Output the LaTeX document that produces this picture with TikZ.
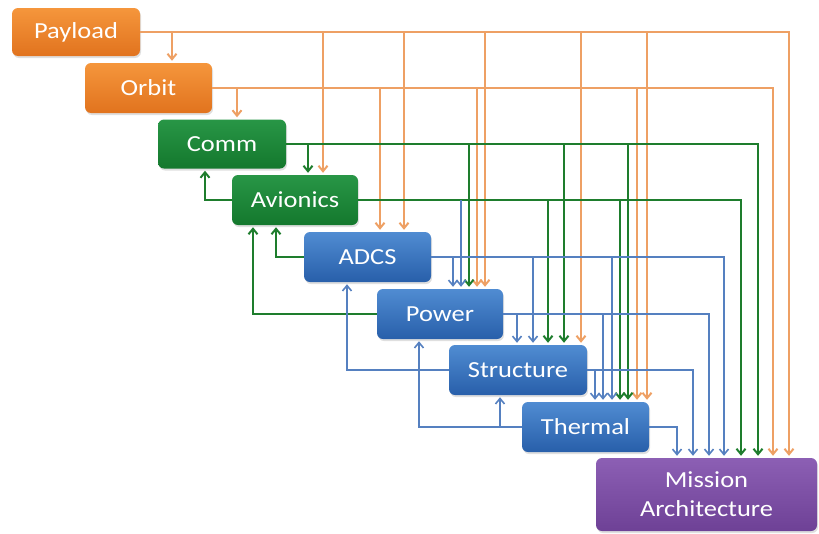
\documentclass[tikz,border=0pt]{standalone}
\usepackage{fontspec}
\setmainfont{Carlito}[FakeStretch=1.15]
\usetikzlibrary{arrows.meta,shadows}
\definecolor{oline}{RGB}{238,160,100}
\definecolor{gline}{RGB}{30,125,45}
\definecolor{bline}{RGB}{85,128,192}
\definecolor{otop}{RGB}{245,150,60}
\definecolor{obot}{RGB}{225,115,30}
\definecolor{gtop}{RGB}{40,150,70}
\definecolor{gbot}{RGB}{20,120,45}
\definecolor{btop}{RGB}{80,140,210}
\definecolor{bbot}{RGB}{40,95,170}
\definecolor{ptop}{RGB}{140,95,180}
\definecolor{pbot}{RGB}{110,65,150}
\tikzset{
  box/.style={rounded corners=6pt, text=white, align=center,
    font=\fontsize{23}{29}\selectfont, inner sep=0pt,
    drop shadow={opacity=0.25, shadow xshift=1pt, shadow yshift=-2pt}},
  obox/.style={box, top color=otop, bottom color=obot},
  gbox/.style={box, top color=gtop, bottom color=gbot},
  bbox/.style={box, top color=btop, bottom color=bbot},
  pbox/.style={box, top color=ptop, bottom color=pbot},
  tip/.style={-{Straight Barb[length=5.5pt,width=9pt]}, shorten >=2pt},
  oa/.style={tip, draw=oline, line width=2pt},
  ga/.style={tip, draw=gline, line width=2pt},
  ba/.style={tip, draw=bline, line width=1.6pt},
}
\begin{document}
\begin{tikzpicture}[x=1pt,y=-1pt]
\useasboundingbox (0,0) rectangle (819,533);
% boxes
\node[obox, minimum width=128pt, minimum height=48pt] (pay) at (76,32) {Payload};
\node[obox, minimum width=127pt, minimum height=50pt] (orb) at (148.5,88) {Orbit};
\node[gbox, minimum width=128pt, minimum height=49pt] (com) at (222,144) {Comm};
\node[gbox, minimum width=126pt, minimum height=50pt] (avi) at (295,200) {Avionics};
\node[bbox, minimum width=127pt, minimum height=50pt] (adc) at (367.5,257) {ADCS};
\node[bbox, minimum width=126pt, minimum height=50pt] (pow) at (440,314) {Power};
\node[bbox, minimum width=138pt, minimum height=50pt] (str) at (518,370) {Structure};
\node[bbox, minimum width=127pt, minimum height=50pt] (the) at (585.5,427) {Thermal};
\node[pbox, minimum width=221pt, minimum height=73pt] (mis) at (706.5,494.5) {Mission\\Architecture};

% Payload outputs
\draw[oa] (pay.east) -| (789,0 |- mis.north);
\draw[oa] (172,0 |- pay.east) -- (172,0 |- orb.north);
\draw[oa] (323,0 |- pay.east) -- (323,0 |- avi.north);
\draw[oa] (404,0 |- pay.east) -- (404,0 |- adc.north);
\draw[oa] (485,0 |- pay.east) -- (485,0 |- pow.north);
\draw[oa] (581,0 |- pay.east) -- (581,0 |- str.north);
\draw[oa] (647,0 |- pay.east) -- (647,0 |- the.north);
% Orbit outputs
\draw[oa] (orb.east) -| (773,0 |- mis.north);
\draw[oa] (237,0 |- orb.east) -- (237,0 |- com.north);
\draw[oa] (380,0 |- orb.east) -- (380,0 |- adc.north);
\draw[oa] (477,0 |- orb.east) -- (477,0 |- pow.north);
\draw[oa] (637,0 |- orb.east) -- (637,0 |- the.north);
% Comm outputs
\draw[ga] (com.east) -| (758,0 |- mis.north);
\draw[ga] (308,0 |- com.east) -- (308,0 |- avi.north);
\draw[ga] (469,0 |- com.east) -- (469,0 |- pow.north);
\draw[ga] (564,0 |- com.east) -- (564,0 |- str.north);
\draw[ga] (628,0 |- com.east) -- (628,0 |- the.north);
% Avionics outputs
\draw[ga] (avi.east) -| (741,0 |- mis.north);
\draw[ba] (461,0 |- avi.east) -- (461,0 |- pow.north);
\draw[ga] (548,0 |- avi.east) -- (548,0 |- str.north);
\draw[ga] (620,0 |- avi.east) -- (620,0 |- the.north);
% ADCS outputs
\draw[ba] (adc.east) -| (724,0 |- mis.north);
\draw[ba] (453,0 |- adc.east) -- (453,0 |- pow.north);
\draw[ba] (533,0 |- adc.east) -- (533,0 |- str.north);
\draw[ba] (612,0 |- adc.east) -- (612,0 |- the.north);
% Power outputs
\draw[ba] (pow.east) -| (709,0 |- mis.north);
\draw[ba] (517,0 |- pow.east) -- (517,0 |- str.north);
\draw[ba] (603,0 |- pow.east) -- (603,0 |- the.north);
% Structure outputs
\draw[ba] (str.east) -| (693,0 |- mis.north);
\draw[ba] (595,0 |- str.east) -- (595,0 |- the.north);
% Thermal output
\draw[ba] (the.east) -| (677,0 |- mis.north);

% feedback
\draw[ga] (avi.west) -| (205,0 |- com.south);
\draw[ga] (adc.west) -| (276,0 |- avi.south);
\draw[ga] (pow.west) -| (253,0 |- avi.south);
\draw[ba] (str.west) -| (347,0 |- adc.south);
\draw[ba] (the.west) -| (419,0 |- pow.south);
\draw[ba] (500,0 |- the.west) -- (500,0 |- str.south);
\end{tikzpicture}
\end{document}
